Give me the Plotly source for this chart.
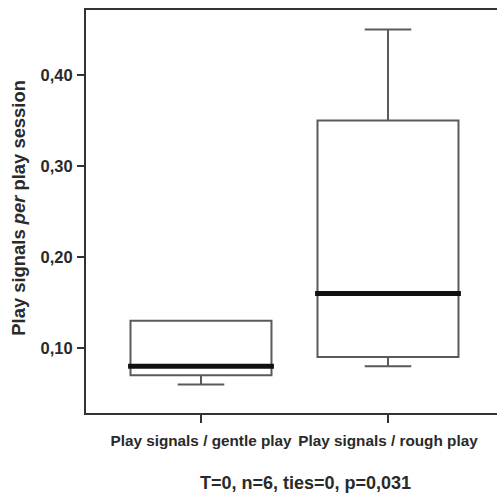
import plotly.graph_objects as go

categories = ["Play signals / gentle play", "Play signals / rough play"]
q1 = [0.07, 0.09]
median = [0.08, 0.16]
q3 = [0.13, 0.35]
lowerfence = [0.06, 0.08]
upperfence = [0.13, 0.45]
ytick_vals = [0.10, 0.20, 0.30, 0.40]
ytick_text = ["0,10", "0,20", "0,30", "0,40"]
y_title = "Play signals <i>per</i> play session"
x_title = "T=0, n=6, ties=0, p=0,031"

FONT = "Liberation Sans, Arial, sans-serif"
TXT = "#2a2a2a"

fig = go.Figure()
fig.add_trace(go.Box(
    x=categories, q1=q1, median=median, q3=q3,
    lowerfence=lowerfence, upperfence=upperfence,
    width=0.754, whiskerwidth=0.33,
    fillcolor="rgba(255,255,255,0)",
    line=dict(color="#5a5a5a", width=2),
    boxpoints=False, showlegend=False, hoverinfo="skip",
))

for i, m in enumerate(median):
    fig.add_shape(type="line", xref="x", yref="y",
                  x0=i - 0.39, x1=i + 0.39, y0=m, y1=m,
                  line=dict(color="#111111", width=5))

fig.add_annotation(text=y_title, xref="paper", yref="paper", x=-0.165, y=0.51,
                   xanchor="center", yanchor="middle", textangle=-90, showarrow=False,
                   font=dict(family=FONT, size=18.4, color=TXT))
fig.add_annotation(text="<b>" + x_title + "</b>", xref="paper", yref="paper",
                   x=0.533, y=-0.174, xanchor="center", yanchor="middle", showarrow=False,
                   font=dict(family=FONT, size=18, color=TXT))

fig.update_layout(
    width=497, height=494,
    margin=dict(l=86, r=0, t=10, b=81),
    plot_bgcolor="white", paper_bgcolor="white",
    font=dict(family=FONT, color=TXT, weight="bold"),
    xaxis=dict(range=[-0.615, 1.583], showgrid=False, zeroline=False,
               showline=True, mirror=True, linecolor="#333333", linewidth=2,
               ticks="outside", ticklen=8, tickwidth=2, tickcolor="#333333",
               tickfont=dict(family=FONT, size=15.3, color=TXT, weight="bold"),
               ticklabelstandoff=5),
    yaxis=dict(range=[0.0286, 0.4714], showgrid=False, zeroline=False,
               showline=True, linecolor="#333333", linewidth=2,
               tickvals=ytick_vals, ticktext=ytick_text,
               ticks="outside", ticklen=7, tickwidth=2, tickcolor="#333333",
               tickfont=dict(family=FONT, size=16.5, color=TXT, weight="bold"),
               ticklabelstandoff=1),
)

fig.write_html("out.html")
